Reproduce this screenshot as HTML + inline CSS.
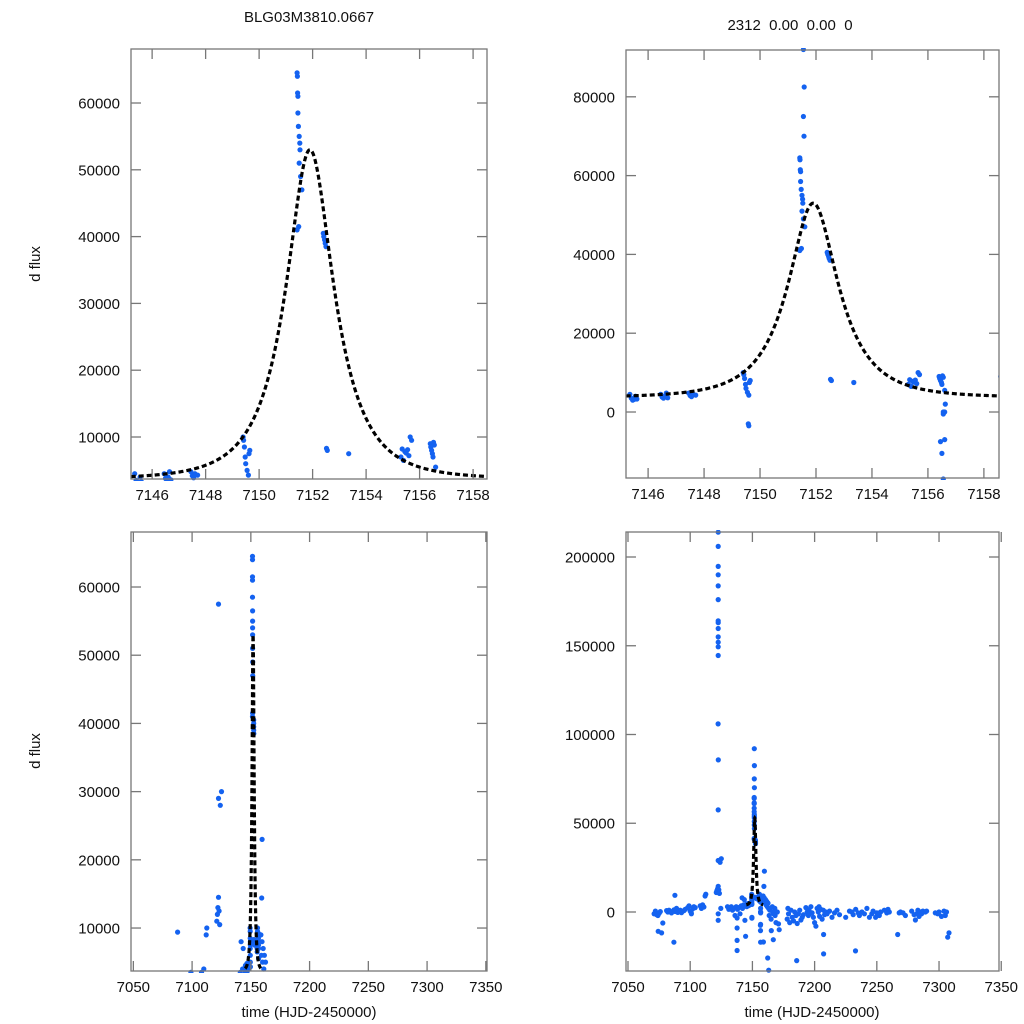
<!DOCTYPE html>
<html><head><meta charset="utf-8">
<style>
html,body{margin:0;padding:0;background:#fff;width:1024px;height:1024px;overflow:hidden;}
svg{display:block;font-family:"Liberation Sans",sans-serif;}
text{fill:#111;}
</style></head>
<body>
<svg id="chart" width="1024" height="1024" viewBox="0 0 1024 1024" xmlns="http://www.w3.org/2000/svg">
<text x="309" y="22" font-size="15" text-anchor="middle">BLG03M3810.0667</text>
<text x="790" y="30" font-size="15" text-anchor="middle" xml:space="preserve">2312  0.00  0.00  0</text>
<text transform="translate(40,264) rotate(-90)" font-size="15" text-anchor="middle">d flux</text>
<text transform="translate(40,751) rotate(-90)" font-size="15" text-anchor="middle">d flux</text>
<text x="309" y="1017" font-size="15" text-anchor="middle">time (HJD-2450000)</text>
<text x="812" y="1017" font-size="15" text-anchor="middle">time (HJD-2450000)</text>
</svg>
<script>
// Observations (time, d flux)
const times = [
7145.35,7145.4,7145.45,7145.5,7145.55,7145.6,
7146.45,7146.5,7146.55,7146.6,7146.65,7146.7,
7147.45,7147.5,7147.55,7147.6,7147.7,
7149.4,7149.42,7149.45,7149.48,7149.5,7149.55,7149.6,7149.62,7149.65,7149.58,7149.6,
7151.55,7151.58,7151.55,7151.57,7151.42,7151.43,7151.44,7151.45,7151.45,7151.47,7151.5,7151.52,7151.53,7151.5,7151.55,7151.6,7151.48,7151.42,
7152.4,7152.42,7152.45,7152.47,7152.5,7152.52,7152.55,
7153.35,
7155.3,7155.35,7155.4,7155.45,7155.5,7155.55,7155.6,7155.65,7155.7,
7156.4,7156.42,7156.45,7156.48,7156.5,7156.52,7156.55,7156.6,7156.62,7156.55,7156.6,7156.45,7156.5,7156.55,7156.6,7156.55,
7071,7072,7073,7074,7075,7076,7077,7078,7074.3,7087.7,7086.9,7089.6,7100.8,
7081,7082,7083,7084,7085,7087,7088,7089,7090,7091,7092,7093,7095,7096,7098,7099,7100,7101,7102,7103,7104,
7108,7109,7110,7111,7112,7112.5,
7121,7121.5,7122,7122.5,7123,7123.5,7124,7125,7122.5,7122.5,7122.6,7122.4,7122.5,7122.5,7122.5,7122.5,7122.5,7122.5,7122.5,7122.5,7122.5,7122.5,7122.5,7122.5,7122.5,7122.5,7122.5,7124.6,
7130,7131,7132,7133,7134,7135,7136,7137,7138,7139,7140,7141,7142,7143,7144,7144.5,
7137.7,7137.7,7137.7,7137.7,7141.7,7143.5,
7158.6,7159,7159.5,7160,7160.5,7161,7161.5,7162,7162.5,7163,7163.5,7164,7165,7166,7167,7168,7169,7170,7171,7171.5,
7158.8,7159.2,7159.6,7162.3,7163.1,7165.2,7166.8,7166.3,7168.2,
7178,7178.5,7179,7180,7181,7182,7183,7184,7185,7186,7187,7188,7189,7190,7191,7193,7194,7195,7195.5,7196,7197,7198,7199,7200,7201,7202,7203,7203.5,7204,7205,7206,7207,7208,7209,7210,7212,7214,7216,7218,7220,7225,7228,7230,7231,7233,7235,7236,7238,7240,7242,7244,7246,7247,7249,7250,7252,7253,7256,7258,7259,7260,7268,7269,7271,7273,7278,7280,7281,7282,7283,7284,7285,7286,7287,7289,7290,7297,7299,7300,7302,7304,7305,7306,7307,7308,
7185.6,7207.2,7207.2,7232.9,7266.8,7278.6,7306.4
];
const fluxes = [
4500,3500,3000,3200,4000,3300,
4500,3800,3500,4000,4800,3600,
4800,4200,3900,4500,4300,
10000,9500,8500,7000,6000,5000,4300,7500,8000,-3000,-3500,
92000,82500,75000,70000,64500,64000,61500,61000,58500,56500,55000,54000,53000,51000,49000,47000,
41500,41000,40500,40000,39500,39000,38500,
8300,
8000,7500,7000,8200,6500,7800,7600,8100,7200,
10000,9500,9000,8500,8000,7500,7000,9200,8800,5500,2000,0,-7000,-7500,-10500,-17000,
0,-500,-1000,500,-1500,-2000,-800,200,-11800,-6200,-10900,9400,-17000,
500,-300,800,0,1000,200,-500,1200,300,2000,-200,600,1000,-400,800,1500,2500,3500,500,-1000,1800,
3000,2500,3500,2000,4000,2800,
9000,10000,11000,12000,13000,14500,12500,10500,28000,30000,29000,57500,85700,106000,144500,149400,152000,155000,159700,163000,164000,176000,183700,190000,194700,206000,214000,-4700,
-1000,2000,3000,1500,2500,3000,1000,2000,-2000,3000,1500,2500,-1000,3500,2000,4000,
-4700,-13700,-16000,-21700,-9000,-3400,
8000,7000,9000,6000,8000,5000,7000,4000,6000,3000,5000,2000,-2000,1000,-4000,3000,-1000,2000,-6000,0,
-6700,-10000,-16900,14400,23000,-25900,-32800,-10500,-15600,
0,-2000,-4000,2000,-1000,-6000,1000,-3000,-5000,0,-2000,-6500,-1000,1000,-4500,-3000,-1500,2500,0,-2000,1000,-1000,3000,-500,-3000,-6000,-8000,2000,0,3000,-2500,1500,-4000,1000,-1500,0,-1000,500,-3000,-500,1000,-1500,-3000,500,0,-1500,1500,-500,-2000,0,-1000,2000,-3000,-1000,500,-3000,-500,-2000,0,1000,-500,1500,0,-500,0,-500,-2000,500,-1500,-4500,-1000,1000,-2500,0,-1000,500,0,500,-500,-1000,0,-2500,500,-2000,0,
-14200,-11800,-27400,-12700,-23600,-21900,-12700
];
// Model parameters (Paczynski)
const modelT0 = [7151.9];
const modelTE = [1.875];
const modelU0 = [0.5];
const modelPeak = [49300];
const modelBase = [3700];
const topXTicks = [7146,7148,7150,7152,7154,7156,7158];
const bottomXTicks = [7050,7100,7150,7200,7250,7300,7350];
const tlYTicks = [10000,20000,30000,40000,50000,60000];
const trYTicks = [0,20000,40000,60000,80000];
const blYTicks = [10000,20000,30000,40000,50000,60000];
const brYTicks = [0,50000,100000,150000,200000];

const NS='http://www.w3.org/2000/svg';
const svg=document.getElementById('chart');
function mk(tag,attrs){const e=document.createElementNS(NS,tag);for(const k in attrs)e.setAttribute(k,attrs[k]);return e;}
function amp(u){return (u*u+2)/(u*Math.sqrt(u*u+4));}
function model(t){const d=(t-modelT0[0])/modelTE[0];const u=Math.sqrt(modelU0[0]*modelU0[0]+d*d);
 return modelBase[0]+modelPeak[0]*(amp(u)-1)/(amp(modelU0[0])-1);}

function panel(id,px,xd,yd,xt,yt){
 const g=mk('g',{});
 
 
 svg.appendChild(g);
 const sx=v=>px[0]+(v-xd[0])/(xd[1]-xd[0])*(px[1]-px[0]);
 const sy=v=>px[3]-(v-yd[0])/(yd[1]-yd[0])*(px[3]-px[2]);
 const cp=mk('clipPath',{id:id+'-clip'});
 cp.appendChild(mk('rect',{x:px[0],y:px[2]-2,width:px[1]-px[0],height:px[3]-px[2]+4}));
 g.appendChild(cp);
 const pts=mk('g',{'clip-path':'url(#'+id+'-clip)'});
 
 
 g.appendChild(pts);
 for(let i=0;i<times.length;i++){
  const c=mk('circle',{cx:sx(times[i]).toFixed(1),cy:sy(fluxes[i]).toFixed(1),r:2.6,fill:'#1462f0'});
  
  
  pts.appendChild(c);
 }
 let d='';
 for(let t=7145.2;t<=7158.5;t+=0.02){d+=(d?'L':'M')+sx(t).toFixed(2)+','+sy(model(t)).toFixed(2);}
 const ln=mk('path',{d:d,fill:'none',stroke:'#000','stroke-width':3.2,'stroke-dasharray':'5,3','clip-path':'url(#'+id+'-clip)'});
 
 
 g.appendChild(ln);
 const fr=mk('rect',{x:px[0],y:px[2],width:px[1]-px[0],height:px[3]-px[2],fill:'none',stroke:'#777','stroke-width':1.3});
 
 
 g.appendChild(fr);
 xt.forEach(v=>{const x=sx(v);
  g.appendChild(mk('line',{x1:x,x2:x,y1:px[3],y2:px[3]-10,stroke:'#777','stroke-width':1.3}));
  g.appendChild(mk('line',{x1:x,x2:x,y1:px[2],y2:px[2]+10,stroke:'#777','stroke-width':1.3}));
  const t=mk('text',{x:x,y:px[3]+21,'font-size':15,'text-anchor':'middle'});t.textContent=v;
  
  
  g.appendChild(t);});
 yt.forEach(v=>{const y=sy(v);
  g.appendChild(mk('line',{x1:px[0],x2:px[0]+10,y1:y,y2:y,stroke:'#777','stroke-width':1.3}));
  g.appendChild(mk('line',{x1:px[1],x2:px[1]-10,y1:y,y2:y,stroke:'#777','stroke-width':1.3}));
  const t=mk('text',{x:px[0]-11,y:y+5.5,'font-size':15,'text-anchor':'end'});t.textContent=v;
  
  
  g.appendChild(t);});
}
panel('top-left',[131,487,49,479],[7145.21,7158.52],[3713,68084],topXTicks,tlYTicks);
panel('top-right',[626,999,50,478],[7145.21,7158.54],[-16750,91880],topXTicks,trYTicks);
panel('bottom-left',[131,487,532,971],[7048,7351],[3700,68065],bottomXTicks,blYTicks);
panel('bottom-right',[626,999,532,971],[7048.4,7348.2],[-33240,214085],bottomXTicks,brYTicks);
</script>
</body></html>
